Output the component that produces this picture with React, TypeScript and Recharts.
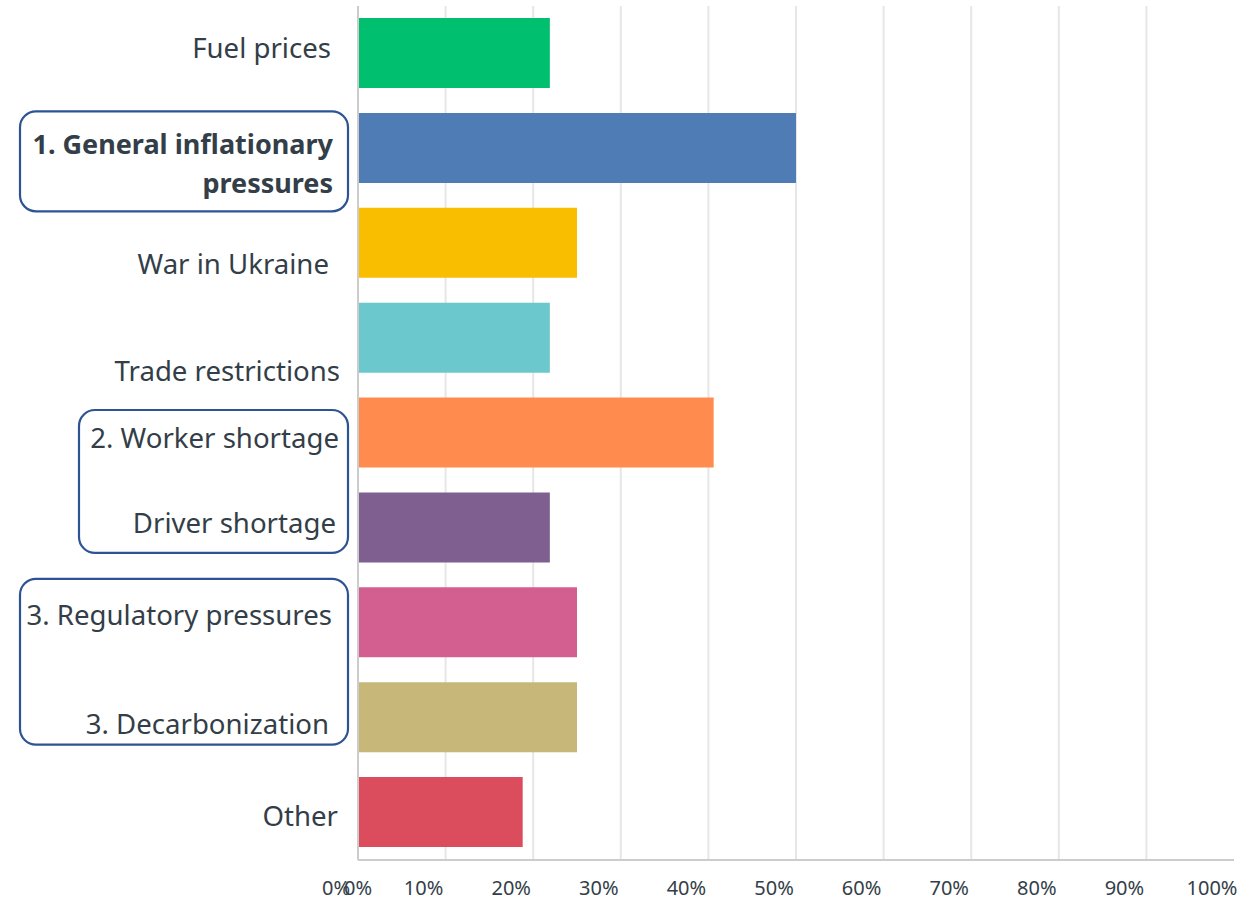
import { BarChart, Bar, Cell, XAxis, YAxis, CartesianGrid } from 'recharts';

// Share of respondents naming each factor
const categories = [
  'Fuel prices',
  '1. General inflationary pressures',
  'War in Ukraine ',
  'Trade restrictions',
  '2. Worker shortage',
  'Driver shortage',
  '3. Regulatory pressures',
  '3. Decarbonization',
  'Other',
];
const shares = [0.219, 0.5, 0.25, 0.219, 0.406, 0.219, 0.25, 0.25, 0.188];
const barColors = ['#00BF6F', '#507CB6', '#F9BE00', '#6BC8CD', '#FF8B4F', '#7F5F90', '#D25F90', '#C7B879', '#DB4D5C'];
const xTicks = [0, 0.1, 0.2, 0.3, 0.4, 0.5, 0.6, 0.7, 0.8, 0.9, 1];

const data = categories.map((name, i) => ({ name, value: shares[i] }));

const WIDTH = 1250;
const HEIGHT = 899;
const TOP = 6;
const X_AXIS_H = 39;
const Y_AXIS_W = 358;
const TEXT = '#333E48';
const FONT = '"Noto Sans", sans-serif';
const BOX = '#2E5395';

// label nudges relative to each band centre / axis line
const labelNudge: Record<string, { dx: number; dy: number }> = {
  'Fuel prices': { dx: -27, dy: -6 },
  '1. General inflationary pressures': { dx: -25, dy: -5 },
  'War in Ukraine ': { dx: -29, dy: 20 },
  'Trade restrictions': { dx: -18, dy: 32 },
  '2. Worker shortage': { dx: -19, dy: 4 },
  'Driver shortage': { dx: -22, dy: -6 },
  '3. Regulatory pressures': { dx: -26, dy: -9 },
  '3. Decarbonization': { dx: -29, dy: 5 },
  'Other': { dx: -20, dy: 2 },
};

// rounded frames that group the top-ranked factors; span = number of bands covered
const frames: Record<string, { left: number; top: number; span: number; bottom: number }> = {
  '1. General inflationary pressures': { left: 20, top: -37, span: 1, bottom: 63 },
  '2. Worker shortage': { left: 79, top: -23, span: 2, bottom: 25 },
  '3. Regulatory pressures': { left: 20, top: -44, span: 2, bottom: 27 },
};

const bold = new Set(['1. General inflationary pressures']);

const step = (HEIGHT - TOP - X_AXIS_H) / categories.length;

function splitLabel(label: string): string[] {
  if (label.length <= 25) return [label];
  const cut = label.lastIndexOf(' ', 24);
  return [label.slice(0, cut), label.slice(cut + 1)];
}

function CategoryTick(props: any) {
  const { x, y, payload } = props;
  const label: string = payload.value;
  const nudge = labelNudge[label] || { dx: -20, dy: 0 };
  const lines = splitLabel(label);
  const frame = frames[label];
  const isBold = bold.has(label);
  return (
    <g>
      {frame && (
        <rect
          x={frame.left}
          y={y + frame.top}
          width={348 - frame.left}
          height={(frame.span - 1) * step + frame.bottom - frame.top}
          rx={16}
          ry={16}
          fill="none"
          stroke={BOX}
          strokeWidth={2.2}
        />
      )}
      {lines.map((line, i) => (
        <text
          key={i}
          x={x + nudge.dx}
          y={y + nudge.dy + i * 39}
          textAnchor="end"
          dominantBaseline="central"
          fontFamily={FONT}
          fontSize={isBold ? 27 : 27.6}
          fontWeight={isBold ? 700 : 400}
          fill={TEXT}
        >
          {line}
        </text>
      ))}
    </g>
  );
}

function PercentTick(props: any) {
  const { x, y, payload, index } = props;
  const txt = `${Math.round(payload.value * 100)}%`;
  const common = {
    y: y + 27,
    textAnchor: 'middle' as const,
    dominantBaseline: 'central' as const,
    fontFamily: FONT,
    fontSize: 20,
    fill: TEXT,
  };
  return (
    <g>
      <text x={x - 22} {...common}>{txt}</text>
      {index === 0 && <text x={x} {...common}>{txt}</text>}
    </g>
  );
}

export default function App() {
  return (
    <div style={{ width: WIDTH, height: HEIGHT, background: '#fff' }}>
      <style>{'body{margin:0}'}</style>
      <BarChart
        width={WIDTH}
        height={HEIGHT}
        data={data}
        layout="vertical"
        margin={{ top: TOP, right: 16, bottom: 0, left: 0 }}
      >
        <CartesianGrid
          horizontal={false}
          stroke="#E6E6E6"
          strokeWidth={2}
          verticalCoordinatesGenerator={({ offset }: any) =>
            xTicks.slice(1, -1).map((t) => offset.left + t * offset.width)
          }
        />
        <XAxis
          type="number"
          domain={[0, 1]}
          ticks={xTicks}
          height={X_AXIS_H}
          tickLine={false}
          tickSize={0}
          tickMargin={0}
          axisLine={{ stroke: '#CCCCCC', strokeWidth: 2 }}
          tick={<PercentTick />}
          interval={0}
        />
        <YAxis
          type="category"
          dataKey="name"
          width={Y_AXIS_W}
          tickLine={false}
          tickSize={0}
          tickMargin={0}
          axisLine={{ stroke: '#CCCCCC', strokeWidth: 2 }}
          tick={<CategoryTick />}
          interval={0}
        />
        <Bar dataKey="value" barSize={70} isAnimationActive={false}>
          {data.map((d, i) => (
            <Cell key={d.name} fill={barColors[i]} />
          ))}
        </Bar>
      </BarChart>
    </div>
  );
}
